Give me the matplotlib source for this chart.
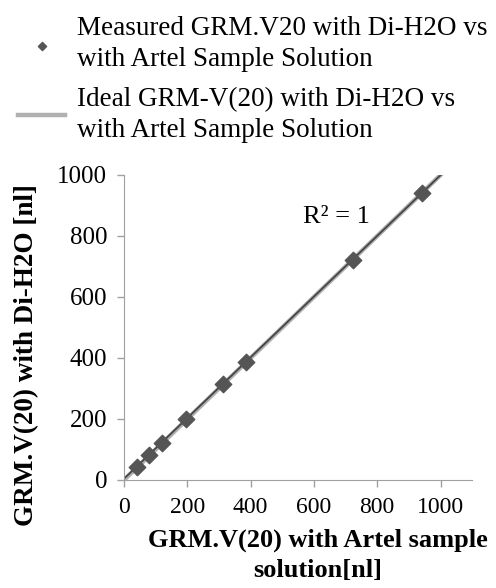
import matplotlib.pyplot as plt
import numpy as np

plt.rcParams['font.family'] = ['Liberation Serif', 'DejaVu Serif']

# measured volumes [nl]
artel_x = [40, 80, 120, 195, 312, 386, 722, 940]
water_y = [44, 83, 122, 200, 316, 388, 722, 940]
ideal_x = [0, 1100]
ideal_y = [0, 1100]

x_ticks = [0, 200, 400, 600, 800, 1000]
y_ticks = [0, 200, 400, 600, 800, 1000]

fig = plt.figure(figsize=(4.96, 5.88), dpi=100)
ax = fig.add_axes([0.25, 0.1837, 0.702, 0.5187])

l_ideal, = ax.plot(ideal_x, ideal_y, color='#b0b0b0', lw=3.2, zorder=1,
                   label='Ideal GRM-V(20) with Di-H2O vs\nwith Artel Sample Solution')
# linear trendline
coef = np.polyfit(artel_x, water_y, 1)
tx = np.array([0, 1000])
ax.plot(tx, np.polyval(coef, tx), color='#454545', lw=1.3, zorder=2)
pts = ax.scatter(artel_x, water_y, marker='D', s=70, color='#555555', zorder=3,
                 label='Measured GRM.V20 with Di-H2O vs\nwith Artel Sample Solution')

ax.text(566, 862, 'R² = 1', fontsize=19, va='center')

ax.set_xlim(0, 1100)
ax.set_ylim(0, 1000)
ax.set_xticks(x_ticks)
ax.set_yticks(y_ticks)
ax.tick_params(color='#a0a0a0', length=5, width=1, pad=7)
ax.tick_params(axis='x', labelsize=17)
ax.tick_params(axis='y', labelsize=18)
for s in ['top', 'right']:
    ax.spines[s].set_visible(False)
for s in ['left', 'bottom']:
    ax.spines[s].set_color('#a0a0a0')

ax.set_xlabel('GRM.V(20) with Artel sample\nsolution[nl]', fontsize=19,
              fontweight='bold', linespacing=1.35)
ax.xaxis.set_label_coords(0.557, -0.16)
ax.xaxis.label.set_va('top')
ax.set_ylabel('GRM.V(20) with Di-H2O [nl]', fontsize=19.5, fontweight='bold')
ax.yaxis.set_label_coords(-0.279, 0.41)
ax.yaxis.label.set_va('center')

leg = fig.legend(handles=[pts, l_ideal], loc='upper left',
                 bbox_to_anchor=(18 / 496, 1 - 16 / 588),
                 frameon=False, fontsize=19.5, handlelength=1.74, markerscale=0.5,
                 labelspacing=0.55, handletextpad=0.44, borderpad=0, borderaxespad=0)
for t in leg.get_texts():
    t.set_linespacing(1.32)

fig.savefig('out.png', dpi=100)
